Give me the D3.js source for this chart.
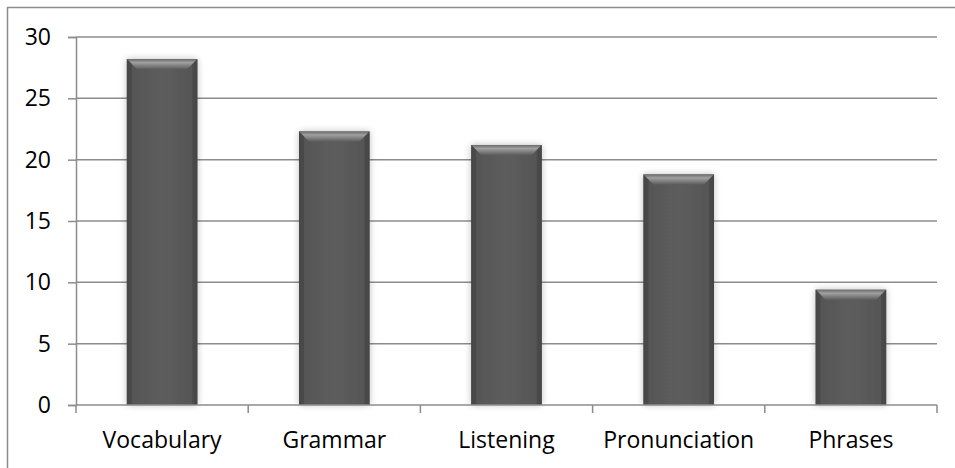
<!DOCTYPE html>
<html>
<head>
<meta charset="utf-8">
<script src="https://cdn.jsdelivr.net/npm/d3@7"></script>
<style>
  html, body { margin: 0; padding: 0; background: #fff; }
  svg { display: block; }
</style>
</head>
<body>
<svg id="chart" width="955" height="468"></svg>
<script>
// Survey areas and their scores
const categories = ["Vocabulary", "Grammar", "Listening", "Pronunciation", "Phrases"];
const values = [28.2, 22.3, 21.2, 18.8, 9.4];
const yTicks = [0, 5, 10, 15, 20, 25, 30];

const svg = d3.select("#chart");
const W = 955, H = 468;
const margin = { left: 76, right: 18, top: 37, bottom: 63 };
const plotW = W - margin.left - margin.right;
const plotH = H - margin.top - margin.bottom;
const font = "'Open Sans', sans-serif";
const fontSize = 23;

// outer frame of the chart area
svg.append("rect")
  .attr("x", 7.5).attr("y", 7.5)
  .attr("width", W + 10).attr("height", H + 10)
  .attr("fill", "none").attr("stroke", "#8c8c8c").attr("stroke-width", 1.5);

const x = d3.scaleBand().domain(categories).range([0, plotW]).paddingInner(0.59).paddingOuter(0.295);
const band = d3.scaleBand().domain(categories).range([0, plotW]);
const y = d3.scaleLinear().domain([0, 30]).range([plotH, 0]);

const defs = svg.append("defs");
const body = defs.append("linearGradient").attr("id", "barBody").attr("x1", 0).attr("x2", 1).attr("y1", 0).attr("y2", 0);
body.append("stop").attr("offset", "0%").attr("stop-color", "#444");
body.append("stop").attr("offset", "8%").attr("stop-color", "#565656");
body.append("stop").attr("offset", "50%").attr("stop-color", "#5d5d5d");
body.append("stop").attr("offset", "92%").attr("stop-color", "#565656");
body.append("stop").attr("offset", "100%").attr("stop-color", "#444");

const bevel = defs.append("linearGradient").attr("id", "barBevel").attr("x1", 0).attr("x2", 0).attr("y1", 0).attr("y2", 1);
bevel.append("stop").attr("offset", "0%").attr("stop-color", "#6a6a6a");
bevel.append("stop").attr("offset", "35%").attr("stop-color", "#a0a0a0");
bevel.append("stop").attr("offset", "100%").attr("stop-color", "#5e5e5e");

const shadow = defs.append("filter").attr("id", "barShadow")
  .attr("x", "-30%").attr("y", "-30%").attr("width", "160%").attr("height", "160%");
shadow.append("feGaussianBlur").attr("in", "SourceAlpha").attr("stdDeviation", 3.5).attr("result", "blur");
shadow.append("feComponentTransfer").attr("in", "blur").attr("result", "soft")
  .append("feFuncA").attr("type", "linear").attr("slope", 0.25);
const merge = shadow.append("feMerge");
merge.append("feMergeNode").attr("in", "soft");
merge.append("feMergeNode").attr("in", "SourceGraphic");

const g = svg.append("g").attr("transform", `translate(${margin.left},${margin.top})`);

// horizontal gridlines
g.append("g").selectAll("line").data(yTicks.filter(d => d > 0)).join("line")
  .attr("x1", 0).attr("x2", plotW)
  .attr("y1", d => y(d)).attr("y2", d => y(d))
  .attr("stroke", "#8c8c8c").attr("stroke-width", 1.5);

// y axis
const yAxis = g.append("g").call(d3.axisLeft(y).tickValues(yTicks).tickSize(8).tickPadding(17));
yAxis.select(".domain").attr("stroke", "#8c8c8c").attr("stroke-width", 1.5);
yAxis.selectAll(".tick line").attr("stroke", "#8c8c8c").attr("stroke-width", 1.5);
yAxis.selectAll("text").attr("font-family", font).attr("font-size", fontSize).attr("fill", "#000");

// bars
const bars = g.append("g").selectAll("g.bar").data(categories).join("g").attr("class", "bar")
  .attr("filter", "url(#barShadow)");
bars.append("rect")
  .attr("x", d => x(d)).attr("width", x.bandwidth())
  .attr("y", (d, i) => y(values[i])).attr("height", (d, i) => plotH - y(values[i]))
  .attr("fill", "url(#barBody)");
// top bevel
bars.append("path")
  .attr("d", (d, i) => {
    const x0 = x(d), x1 = x(d) + x.bandwidth(), t = y(values[i]), b = 10;
    return `M${x0},${t}L${x1},${t}L${x1 - b},${t + b}L${x0 + b},${t + b}Z`;
  })
  .attr("fill", "url(#barBevel)");
// side shading
bars.append("path")
  .attr("d", (d, i) => {
    const x0 = x(d), t = y(values[i]), b = 5;
    return `M${x0},${t}L${x0 + b},${t + b}L${x0 + b},${plotH}L${x0},${plotH}Z`;
  })
  .attr("fill", "#464646").attr("opacity", 0.6);
bars.append("path")
  .attr("d", (d, i) => {
    const x1 = x(d) + x.bandwidth(), t = y(values[i]), b = 5;
    return `M${x1},${t}L${x1 - b},${t + b}L${x1 - b},${plotH}L${x1},${plotH}Z`;
  })
  .attr("fill", "#464646").attr("opacity", 0.6);

// x axis with ticks between categories
const xAxisG = g.append("g").attr("transform", `translate(0,${plotH})`);
xAxisG.append("line").attr("x1", 0).attr("x2", plotW).attr("stroke", "#8c8c8c").attr("stroke-width", 1.5);
const bounds = [0, ...categories.map(c => band(c) + band.bandwidth())];
xAxisG.selectAll("line.tk").data(bounds).join("line").attr("class", "tk")
  .attr("x1", d => d).attr("x2", d => d).attr("y1", 0).attr("y2", 8)
  .attr("stroke", "#8c8c8c").attr("stroke-width", 1.5);
xAxisG.selectAll("text").data(categories).join("text")
  .attr("x", d => band(d) + band.bandwidth() / 2).attr("y", 43)
  .attr("text-anchor", "middle")
  .attr("font-family", font).attr("font-size", fontSize).attr("fill", "#000")
  .text(d => d);
</script>
</body>
</html>
